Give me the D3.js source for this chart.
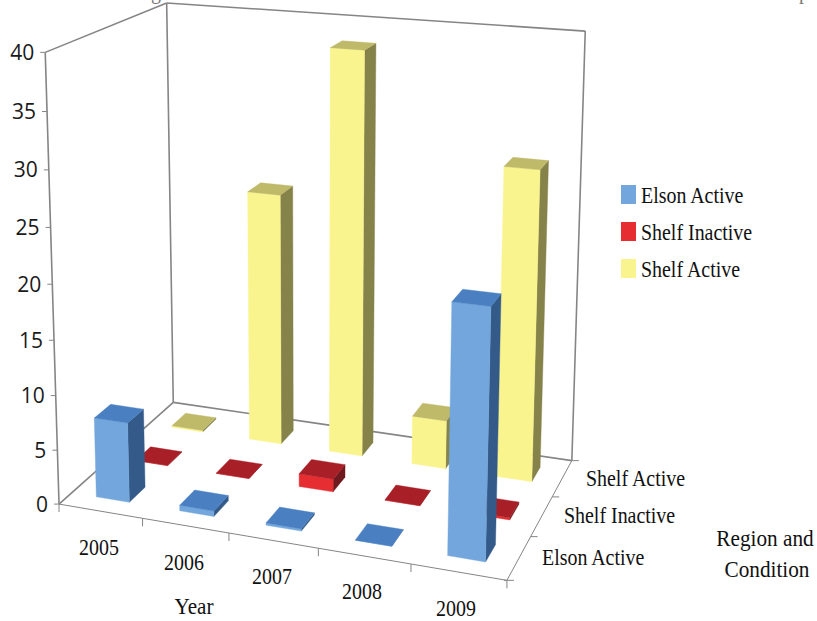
<!DOCTYPE html>
<html><head><meta charset="utf-8">
<script src="https://cdn.jsdelivr.net/npm/d3@7"></script>
<style>html,body{margin:0;padding:0;background:#fff}svg{display:block}</style>
</head><body><svg id="c" width="817" height="621"></svg>
<script>
const years = ["2005","2006","2007","2008","2009"];
const seriesNames = ["Elson Active","Shelf Inactive","Shelf Active"];
const elsonActive = [7.35, 0.5, 0.2, 0, 21.8];
const shelfInactive = [0, 0, 1.2, 0, 0.2];
const shelfActive = [0.15, 24.1, 38.1, 4.6, 28.75];
const seriesValues = [elsonActive, shelfInactive, shelfActive];
const valueTicks = [0,5,10,15,20,25,30,35,40];
const faceColors = [
  {front:"#72a6dc", side:"#335a88", top:"#4a80c2"},
  {front:"#e62d32", side:"#6e1a1e", top:"#a81f27"},
  {front:"#faf48e", side:"#85824a", top:"#bfb96a"}
];

// Camera fit: corners of the plot box -> screen
const anchors = [
 [0,0,0,59,504],[1,0,0,507,580],[1,1,0,572,461],[0,1,0,173,402],
 [0,0,1,45,52],[0,1,1,167,3],[1,1,1,585,31],[0,0,.5,52.5,285]
];
function fitCamera(pts){
  const A=[],b=[];
  pts.forEach(([u,v,w,x,y])=>{
    A.push([u,v,w,1,0,0,0,0,-x*u,-x*v,-x*w]);b.push(x);
    A.push([0,0,0,0,u,v,w,1,-y*u,-y*v,-y*w]);b.push(y);
  });
  const n=11,M=[];
  for(let i=0;i<n;i++){M.push([]);for(let j=0;j<=n;j++){let s=0;
    A.forEach((r,k)=>{s+=r[i]*(j<n?r[j]:b[k])});M[i].push(s+(i===j?1e-9:0));}}
  for(let i=0;i<n;i++){let m=i;for(let k=i+1;k<n;k++)if(Math.abs(M[k][i])>Math.abs(M[m][i]))m=k;
    [M[i],M[m]]=[M[m],M[i]];
    for(let k=0;k<n;k++)if(k!==i){const f=M[k][i]/M[i][i];for(let j=i;j<=n;j++)M[k][j]-=f*M[i][j];}}
  return M.map((r,i)=>r[n]/r[i]);
}
const p=fitCamera(anchors);
function proj(u,v,w){const d=p[8]*u+p[9]*v+p[10]*w+1;
  return [(p[0]*u+p[1]*v+p[2]*w+p[3])/d,(p[4]*u+p[5]*v+p[6]*w+p[7])/d];}

const uScale=d3.scaleBand().domain(years).range([0,1]).paddingInner(.6).paddingOuter(.3);
const vScale=d3.scaleBand().domain(seriesNames).range([0,1]).paddingInner(.6).paddingOuter(.3);
const wScale=d3.scaleLinear().domain([0,40]).range([0,1]);

const svg=d3.select("#c");
const line=d3.line();
const gray="#858585";
function seg(a,b,sw,col){svg.append("path").attr("d",line([proj(...a),proj(...b)])).attr("fill","none").attr("stroke",col||gray).attr("stroke-width",sw);}
// walls and floor
[[[0,0,0],[0,0,1]],[[0,0,1],[0,1,1]],[[0,1,1],[0,1,0]],[[0,1,1],[1,1,1]],[[1,1,1],[1,1,0]],[[0,1,0],[1,1,0]],[[0,1,0],[0,0,0]]]
 .forEach(([a,b])=>seg(a,b,1.6));
seg([0,0,0],[1,0,0],1);seg([1,0,0],[1,1,0],1);

// value ticks and labels
valueTicks.forEach(t=>{
  const q=proj(0,0,wScale(t));
  svg.append("path").attr("d",line([[q[0]-5,q[1]],q])).attr("stroke",gray).attr("stroke-width",1);
  svg.append("text").attr("x",q[0]-11).attr("y",q[1]+7.5).attr("text-anchor","end")
    .attr("font-family","'Open Sans'").attr("font-size",21).attr("fill","#1a1a1a").text(t);
});
// year ticks
d3.range(years.length+1).forEach(i=>{
  const q=proj(i/years.length,0,0);
  svg.append("path").attr("d",line([q,[q[0],q[1]+8]])).attr("stroke",gray).attr("stroke-width",1);
});
// series ticks
d3.range(seriesNames.length+1).forEach(i=>{
  const q=proj(1,i/seriesNames.length,0);
  svg.append("path").attr("d",line([[q[0]-(i===0?3:0),q[1]],[q[0]+7,q[1]]])).attr("stroke",gray).attr("stroke-width",1);
});

// bars, back to front
const poly=(pts,col)=>svg.append("path").attr("d",line(pts)+"Z").attr("fill",col).attr("stroke",col).attr("stroke-width",.4);
d3.range(seriesNames.length-1,-1,-1).forEach(s=>{
  years.forEach((yr,i)=>{
    const val=seriesValues[s][i],c=faceColors[s];
    const u0=uScale(yr),u1=u0+uScale.bandwidth(),v0=vScale(seriesNames[s]),v1=v0+vScale.bandwidth(),h=wScale(val);
    poly([proj(u1,v0,0),proj(u1,v1,0),proj(u1,v1,h),proj(u1,v0,h)],c.side);
    poly([proj(u0,v0,0),proj(u1,v0,0),proj(u1,v0,h),proj(u0,v0,h)],c.front);
    poly([proj(u0,v0,h),proj(u1,v0,h),proj(u1,v1,h),proj(u0,v1,h)],c.top);
  });
});

// text: the reference type is tall and narrow
const serif=(x,y,t,anchor,col,sx)=>svg.append("text").attr("transform",`translate(${x},${y}) scale(${sx||.83},1)`)
  .attr("text-anchor",anchor||"start")
  .attr("font-family","'Liberation Serif'").attr("font-size",24).attr("fill",col||"#111").text(t);
const yearLabelX=[99,184,272,362,456], yearLabelY=[555,570,584,599,616];
years.forEach((y,i)=>serif(yearLabelX[i],yearLabelY[i],y,"middle"));
serif(194,614,"Year","middle",null,.88);
const rightLabelX=[542,564,586], rightLabelY=[565,523,486];
seriesNames.forEach((n,i)=>serif(rightLabelX[i],rightLabelY[i],n));
serif(765,546,"Region and","middle",null,.885);
serif(767,577,"Condition","middle",null,.885);
// legend
const legY=[185,222,259], legB=[203,240,277];
seriesNames.forEach((n,i)=>{
  svg.append("rect").attr("x",621).attr("y",legY[i]).attr("width",15).attr("height",19).attr("fill",faceColors[i].front);
  serif(641,legB[i],n);
});
// descenders of the caption cut off by the top edge, as in the reference
serif(156,-1,"g","middle","#777");
serif(804,-1,"p","middle","#777");
</script></body></html>
